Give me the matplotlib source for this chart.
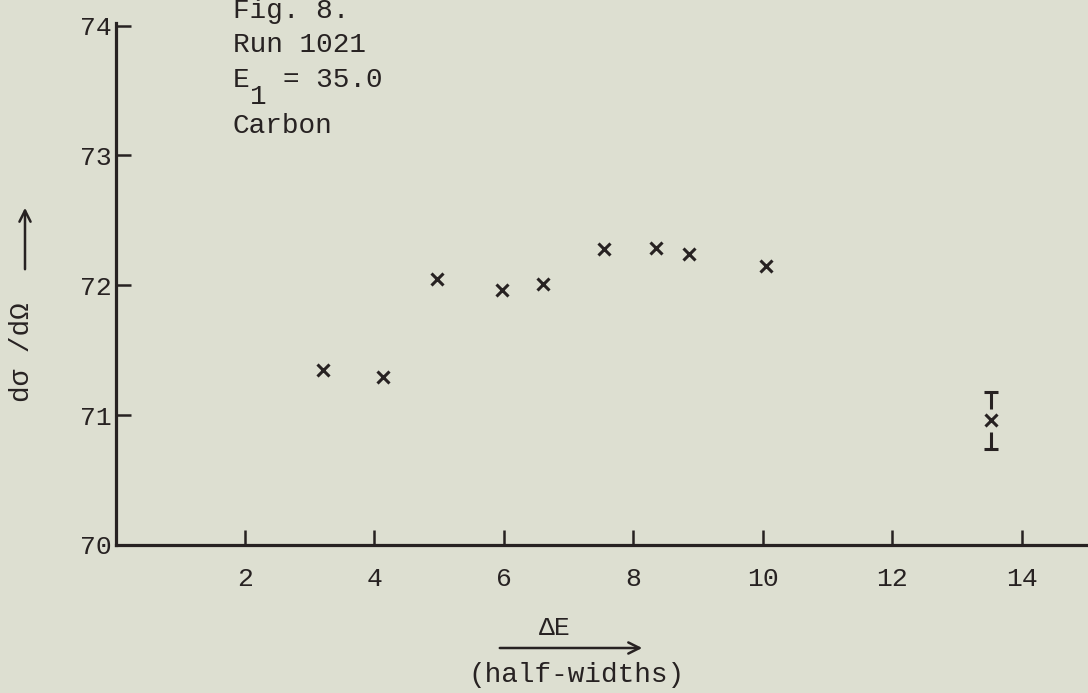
"""
Fig. 8 - cross section vs energy window (Run 1021, Carbon).
"""
import matplotlib
matplotlib.use("Agg")
import matplotlib.pyplot as plt

# data
delta_e = [3.20, 4.13, 4.96, 5.97, 6.61, 7.54, 8.35, 8.86, 10.05]
dsigma = [71.35, 71.29, 72.05, 71.96, 72.01, 72.28, 72.29, 72.24, 72.15]

# the one point drawn with an error bar
err_x = [13.52]
err_y = [70.96]
err_size = [0.22]

x_ticks = [2, 4, 6, 8, 10, 12, 14]
y_ticks = [70, 71, 72, 73, 74]

PAPER = "#DDDFD1"
INK = "#272222"
FONT = "Liberation Mono"

plt.rcParams["font.family"] = [FONT, "DejaVu Sans"]

fig = plt.figure(figsize=(10.88, 6.93), dpi=100)
fig.patch.set_facecolor(PAPER)
ax = fig.add_axes([115.5 / 1088, 148 / 693, 1 - 115.5 / 1088, 522 / 693])
ax.set_facecolor(PAPER)

ax.plot(delta_e, dsigma, linestyle="none", marker="x", markersize=9,
        markeredgewidth=2.2, color=INK)

# error bar point: cross with a gap, T caps at both ends
ax.plot(err_x, err_y, linestyle="none", marker="x", markersize=8,
        markeredgewidth=2.2, color=INK)
gap = 0.09
for x, y, e in zip(err_x, err_y, err_size):
    ax.vlines(x, y + gap, y + e, color=INK, linewidth=2.2)
    ax.vlines(x, y - e, y - gap, color=INK, linewidth=2.2)
    ax.plot([x, x], [y + e, y - e], linestyle="none", marker="_",
            markersize=10, markeredgewidth=2.2, color=INK)

ax.set_xlim(0, 15.02)
ax.set_ylim(70, 74.02)
ax.set_xticks(x_ticks)
ax.set_yticks(y_ticks)

for side in ("top", "right"):
    ax.spines[side].set_visible(False)
for side in ("left", "bottom"):
    ax.spines[side].set_linewidth(2.3)
    ax.spines[side].set_color(INK)

ax.tick_params(direction="in", length=11, width=1.8, color=INK,
               labelcolor=INK, labelsize=19)
ax.tick_params(axis="x", pad=16)
ax.tick_params(axis="y", pad=3)
for lbl in ax.get_xticklabels() + ax.get_yticklabels():
    lbl.set_family(FONT)

# header text block
fig.text(233 / 1088, 1 - 18 / 693, "Fig. 8.", fontsize=20, color=INK,
         family=FONT, va="baseline")
fig.text(233 / 1088, 1 - 52 / 693, "Run 1021", fontsize=20, color=INK,
         family=FONT, va="baseline")
fig.text(233 / 1088, 1 - 87 / 693, "E  = 35.0", fontsize=20, color=INK,
         family=FONT, va="baseline")
fig.text(250 / 1088, 1 - 104 / 693, "1", fontsize=20, color=INK,
         family=FONT, va="baseline")
fig.text(233 / 1088, 1 - 133 / 693, "Carbon", fontsize=20, color=INK,
         family=FONT, va="baseline")

# y label with arrow
fig.text(22 / 1088, 1 - 352 / 693, "d\u03c3 /d\u03a9", rotation=90,
         fontsize=20, color=INK, ha="center", va="center")
fig.patches.append(matplotlib.patches.FancyArrowPatch(
    (25 / 1088, 1 - 272 / 693), (25 / 1088, 1 - 205 / 693),
    transform=fig.transFigure, arrowstyle="->", mutation_scale=20,
    linewidth=1.8, color=INK))

# x label with arrow
fig.text(555 / 1088, 1 - 628 / 693, "\u0394E", fontsize=19, color=INK,
         family=FONT, ha="center", va="center")
fig.patches.append(matplotlib.patches.FancyArrowPatch(
    (497 / 1088, 1 - 648 / 693), (645 / 1088, 1 - 648 / 693),
    transform=fig.transFigure, arrowstyle="->", mutation_scale=20,
    linewidth=1.8, color=INK))
fig.text(576 / 1088, 1 - 675 / 693, "(half-widths)", fontsize=20,
         color=INK, family=FONT, ha="center", va="center")

fig.savefig("out.png", dpi=100, facecolor=fig.get_facecolor())
